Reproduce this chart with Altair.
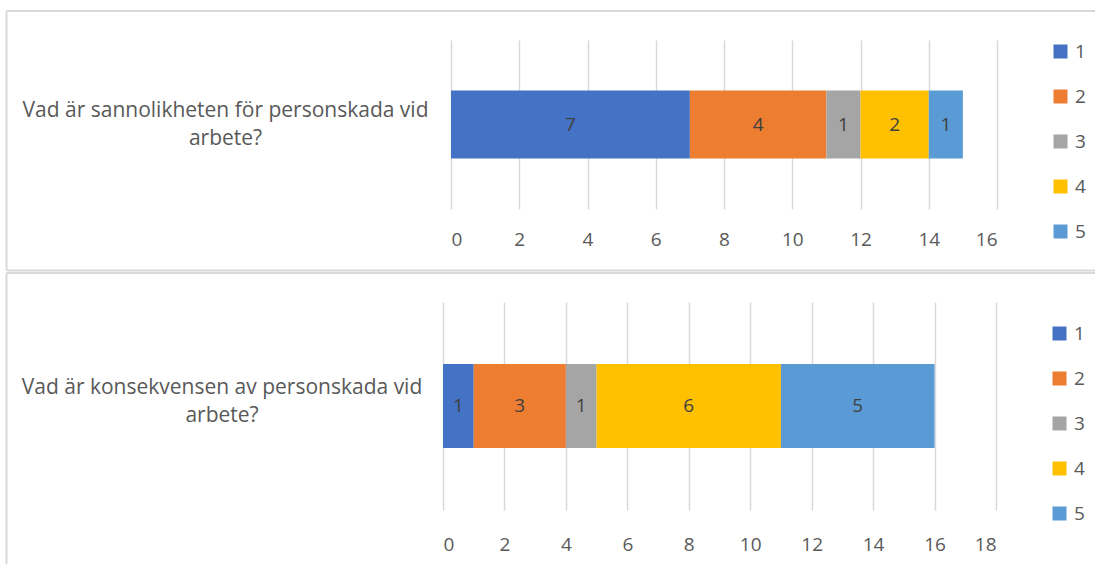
import altair as alt
import pandas as pd

# Answer levels and their colours (Office palette)
LEVELS = ["1", "2", "3", "4", "5"]
COLORS = ["#4472C4", "#ED7D31", "#A5A5A5", "#FFC000", "#5B9BD5"]

# Question 1
Q1 = "Vad är sannolikheten för personskada vid arbete?"
Q1_COUNTS = [7, 4, 1, 2, 1]
Q1_TICKS = [0, 2, 4, 6, 8, 10, 12, 14, 16]

# Question 2
Q2 = "Vad är konsekvensen av personskada vid arbete?"
Q2_COUNTS = [1, 3, 1, 6, 5]
Q2_TICKS = [0, 2, 4, 6, 8, 10, 12, 14, 16, 18]

FONT = "Open Sans"
SIZE = 19
TEXT = "#595959"
LABEL = "#404040"
GRID = "#d9d9d9"
FRAME = "#d9d9d9"

# wrap the question onto two lines, last word on the second
WRAP = ("[slice(datum.label, 0, lastindexof(datum.label, ' ')), "
        "slice(datum.label, lastindexof(datum.label, ' ') + 1)]")


def frame_rule(**enc):
    return (alt.Chart(alt.Data(values=[{}]))
            .mark_rule(color=FRAME, strokeWidth=2)
            .encode(**enc))


def panel(question, counts, ticks, width, height, x_range, bar_size,
          cat_pad, cat_offset, tick_pad, legend_x, legend_y, frame_bottom,
          close_bottom):
    df = pd.DataFrame({"question": question, "level": LEVELS, "count": counts})
    base = (alt.Chart(df)
            .transform_stack(stack="count", groupby=["question"],
                             as_=["x0", "x1"],
                             sort=[alt.SortField("level", order="ascending")])
            .transform_calculate(mid="(datum.x0 + datum.x1) / 2"))

    xscale = alt.Scale(domain=[ticks[0], ticks[-1]], nice=False, zero=True,
                       range=x_range)
    xaxis = alt.Axis(values=ticks, title=None, grid=True, gridColor=GRID,
                     gridWidth=1.5, ticks=False, domain=False,
                     labelFont=FONT, labelFontSize=SIZE, labelColor=TEXT,
                     labelPadding=tick_pad)
    y = alt.Y("question:N", title=None,
              axis=alt.Axis(ticks=False, domain=False, grid=False,
                            labelExpr=WRAP, labelAlign="center",
                            labelBaseline="middle", labelLineHeight=28,
                            labelPadding=cat_pad, labelOffset=cat_offset,
                            labelLimit=700, labelFont=FONT,
                            labelFontSize=21, labelColor=TEXT))

    bars = base.mark_bar(size=bar_size).encode(
        x=alt.X("x0:Q", scale=xscale, axis=xaxis),
        x2="x1:Q",
        y=y,
        color=alt.Color(
            "level:N",
            scale=alt.Scale(domain=LEVELS, range=COLORS),
            legend=alt.Legend(title=None, orient="none", legendX=legend_x,
                              legendY=legend_y, symbolType="square",
                              symbolSize=196, symbolStrokeWidth=0,
                              labelFont=FONT, labelFontSize=SIZE,
                              labelColor=TEXT, labelOffset=5,
                              rowPadding=25, padding=0)),
    )
    labels = base.mark_text(font=FONT, fontSize=SIZE, color=LABEL,
                            align="center", baseline="middle").encode(
        x=alt.X("mid:Q", scale=xscale, axis=xaxis),
        y=y,
        text="count:Q",
    )

    left, right, top = -436.5, 652, -29
    layers = [
        frame_rule(x=alt.value(left), x2=alt.value(right), y=alt.value(top)),
        frame_rule(x=alt.value(left), y=alt.value(top),
                   y2=alt.value(frame_bottom)),
    ]
    if close_bottom:
        layers.append(frame_rule(x=alt.value(left), x2=alt.value(right),
                                 y=alt.value(frame_bottom)))
    return alt.layer(*layers, bars, labels).properties(width=width,
                                                       height=height)


top = panel(Q1, Q1_COUNTS, Q1_TICKS, width=554, height=169,
            x_range=[8, 554], bar_size=68, cat_pad=218, cat_offset=-14,
            tick_pad=21, legend_x=608, legend_y=2, frame_bottom=230.5,
            close_bottom=True)
bottom = panel(Q2, Q2_COUNTS, Q2_TICKS, width=553, height=208,
               x_range=[0, 553], bar_size=84, cat_pad=221.5, cat_offset=-18,
               tick_pad=25, legend_x=607, legend_y=22, frame_bottom=262,
               close_bottom=False)

chart = (alt.vconcat(top, bottom, spacing=0)
         .resolve_scale(color="independent")
         .resolve_legend(color="independent")
         .properties(padding={"left": 5, "top": 10, "right": 0, "bottom": 0},
                     background="white")
         .configure_view(stroke=None))

chart.save("out.html", embed_options={"renderer": "svg", "actions": False})
